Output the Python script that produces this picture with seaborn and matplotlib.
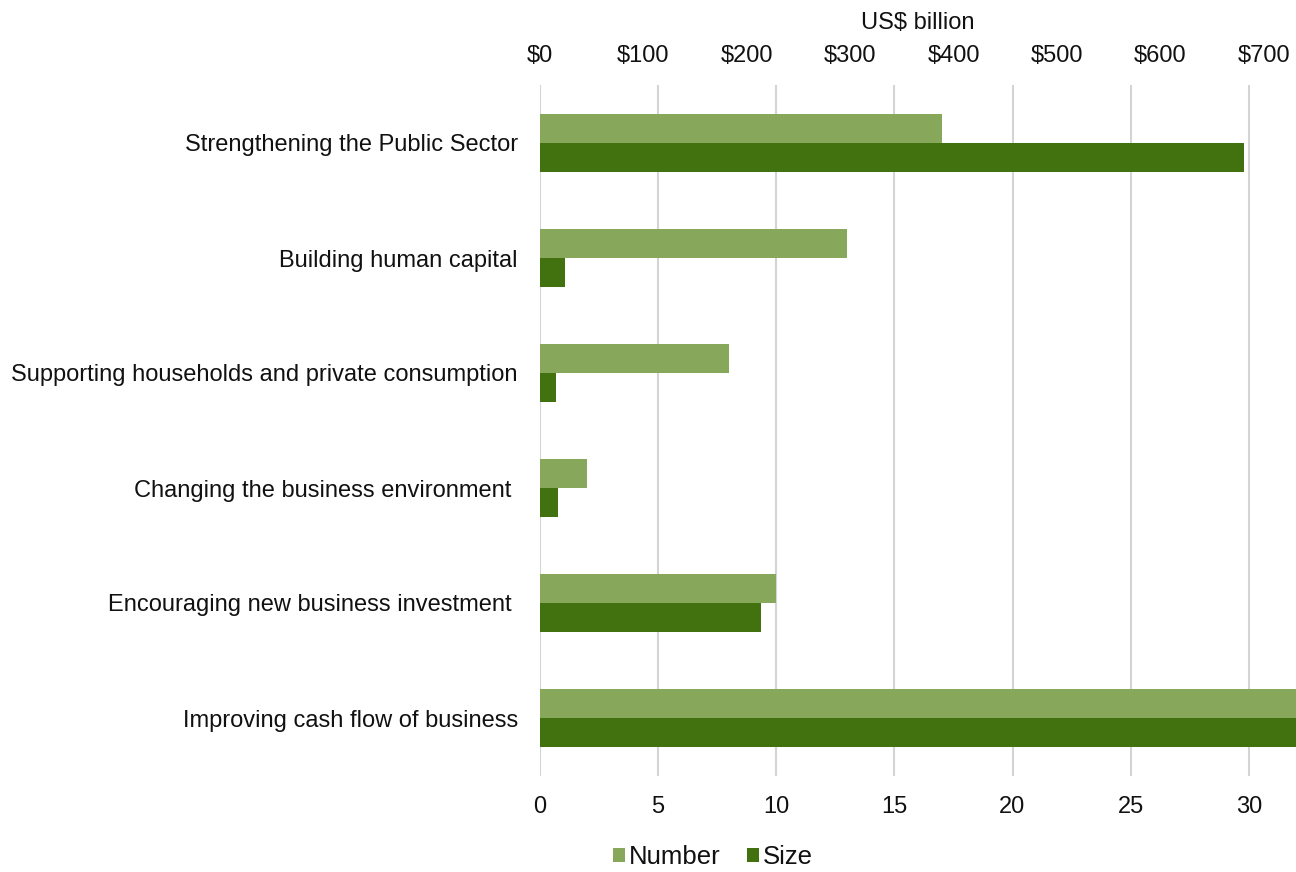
import matplotlib
matplotlib.use("Agg")
import matplotlib.pyplot as plt
from matplotlib.patches import Patch
import seaborn as sns
import pandas as pd

# Support measures: count of measures (bottom axis) and size in US$ billion (top axis)
categories = [
    "Strengthening the Public Sector",
    "Building human capital",
    "Supporting households and private consumption",
    "Changing the business environment ",
    "Encouraging new business investment ",
    "Improving cash flow of business",
]
number = [17, 13, 8, 2, 10, 34]
size_bn = [681, 24, 15.5, 17.5, 214, 790]

series = ["Number", "Size"]
colors = {"Number": "#87A85A", "Size": "#427210"}

number_ticks = [0, 5, 10, 15, 20, 25, 30]
size_ticks = [0, 100, 200, 300, 400, 500, 600, 700]

df_num = pd.DataFrame({"category": categories, "value": number, "series": "Number"})
df_size = pd.DataFrame({"category": categories, "value": size_bn, "series": "Size"})

sns.set_theme(style="white")
plt.rcParams["font.family"] = ["Liberation Sans", "DejaVu Sans"]
plt.rcParams["text.color"] = "#111111"

W, H = 1296, 872
fig = plt.figure(figsize=(W / 100, H / 100), dpi=100)
ax = fig.add_axes([540 / W, 1 - 775.5 / H, (1296 - 540) / W, (775.5 - 85.5) / H])
ax2 = ax.twiny()

common = dict(y="category", order=categories, hue="series", hue_order=series,
              palette=colors, orient="h", width=0.5, dodge=True, saturation=1,
              errorbar=None, legend=False, linewidth=0)
sns.barplot(data=df_num, x="value", ax=ax, **common)
sns.barplot(data=df_size, x="value", ax=ax2, **common)

ax.set_xlim(0, 32)
ax2.set_xlim(0, 731)
ax.set_ylim(5.5, -0.5)

ax.set_xticks(number_ticks)
ax.set_xticklabels([str(t) for t in number_ticks])
ax2.set_xticks(size_ticks)
ax2.set_xticklabels([f"${t}" for t in size_ticks])

ax.xaxis.grid(True, color="#d4d4d4", linewidth=1.5)
ax.yaxis.grid(False)
ax2.grid(False)
ax.set_axisbelow(True)

for a in (ax, ax2):
    for s in a.spines.values():
        s.set_visible(False)
    a.set_ylabel("")

ax.set_xlabel("")
ax2.set_xlabel("US$ billion", fontsize=17, labelpad=12, color="#111111")

ax.tick_params(axis="x", length=0, pad=15, labelsize=17, labelcolor="#111111")
ax.tick_params(axis="y", length=0, pad=16, labelsize=17, labelcolor="#111111")
ax2.tick_params(axis="x", length=0, pad=13, labelsize=17, labelcolor="#111111")

handles = [Patch(facecolor=colors[s], edgecolor="none", label=s) for s in series]
fig.legend(handles=handles, loc="center", bbox_to_anchor=(713 / W, 1 - 857 / H),
           ncol=2, frameon=False, fontsize=18.5, handlelength=0.45, handleheight=0.45,
           handletextpad=0.15, columnspacing=1.05, borderpad=0)

fig.savefig("out.png", dpi=100)
